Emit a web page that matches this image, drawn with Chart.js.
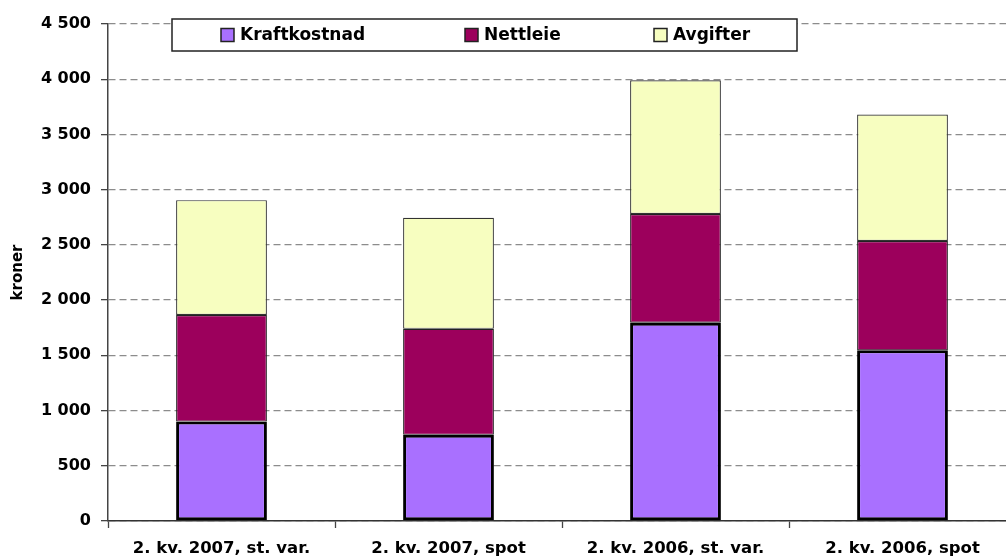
<!DOCTYPE html>
<html>
<head>
<meta charset="utf-8">
<script src="https://cdn.jsdelivr.net/npm/chart.js@4/dist/chart.umd.min.js"></script>
<style>
  html, body { margin: 0; padding: 0; background: #fff; overflow: hidden; }
  #wrap { position: absolute; left: 0; top: 0; width: 1016px; height: 558px; }
</style>
</head>
<body>
<div id="wrap"><canvas id="chart" width="1016" height="558"></canvas></div>
<script>
// Data
const categories = ['2. kv. 2007, st. var.', '2. kv. 2007, spot', '2. kv. 2006, st. var.', '2. kv. 2006, spot'];
const kraftkostnad = [900, 780, 1795, 1545];
const nettleie = [965, 960, 985, 990];
const avgifter = [1040, 1005, 1210, 1145];
const yTicks = [0, 500, 1000, 1500, 2000, 2500, 3000, 3500, 4000, 4500];

const FONT = "'DejaVu Sans', sans-serif";

// thousands with a space: 4500 -> "4 500"
const fmt = v => String(v).replace(/\B(?=(\d{3})+(?!\d))/g, ' ');

// Boxed legend drawn on top of the plot, like the original
const boxLegend = {
  id: 'boxLegend',
  afterDraw(chart) {
    const ctx = chart.ctx;
    const box = { x: 172, y: 19, w: 625, h: 32 };
    const itemX = [221, 465, 654];
    ctx.save();
    ctx.fillStyle = '#fff';
    ctx.fillRect(box.x, box.y, box.w, box.h);
    ctx.lineWidth = 1.5;
    ctx.strokeStyle = '#222';
    ctx.strokeRect(box.x, box.y, box.w, box.h);
    ctx.font = `bold 17px ${FONT}`;
    ctx.textBaseline = 'middle';
    chart.data.datasets.forEach((ds, i) => {
      const x = itemX[i];
      const cy = box.y + box.h / 2;
      ctx.fillStyle = ds.backgroundColor;
      ctx.fillRect(x, cy - 6.5, 13, 13);
      ctx.lineWidth = 1.5;
      ctx.strokeStyle = '#222';
      ctx.strokeRect(x, cy - 6.5, 13, 13);
      ctx.fillStyle = '#000';
      ctx.fillText(ds.label, x + 19, cy + 1);
    });
    ctx.restore();
  }
};

const ctx = document.getElementById('chart').getContext('2d');
new Chart(ctx, {
  type: 'bar',
  data: {
    labels: categories,
    datasets: [
      { label: 'Kraftkostnad', data: kraftkostnad, backgroundColor: '#A970FF', borderColor: '#000', borderWidth: 3, borderSkipped: false },
      { label: 'Nettleie', data: nettleie, backgroundColor: '#9C005C', borderColor: '#222', borderWidth: 1.2, borderSkipped: false },
      { label: 'Avgifter', data: avgifter, backgroundColor: '#F7FEC0', borderColor: '#333', borderWidth: 1.2, borderSkipped: false }
    ]
  },
  options: {
    responsive: false,
    animation: false,
    layout: { padding: { top: 24, left: 0, right: 0, bottom: 0 } },
    datasets: { bar: { barPercentage: 0.4, categoryPercentage: 1 } },
    plugins: { legend: { display: false }, tooltip: { enabled: false } },
    scales: {
      x: {
        stacked: true,
        grid: { display: true, drawOnChartArea: false, offset: true, tickLength: 7, tickColor: '#444', tickWidth: 1.3 },
        border: { color: '#333', width: 1.5 },
        ticks: { font: { family: FONT, size: 16.5, weight: 'bold' }, color: '#000', padding: 11, maxRotation: 0, autoSkip: false },
        afterFit: s => { s.height = 37; }
      },
      y: {
        stacked: true,
        min: 0,
        max: 4500,
        afterBuildTicks: s => { s.ticks = yTicks.map(v => ({ value: v })); },
        ticks: { font: { family: FONT, size: 16, weight: 'bold' }, color: '#000', padding: 10, callback: v => fmt(v) },
        grid: { color: '#8c8c8c', lineWidth: 1.3, borderDash: [7, 4], tickBorderDash: [], tickColor: '#444', tickLength: 7, tickWidth: 1.3 },
        border: { color: '#444', width: 1.5, dash: [7, 4] },
        title: { display: true, text: 'kroner', font: { family: FONT, size: 15, weight: 'bold' }, color: '#000', padding: { top: 9, bottom: 0 } },
        afterFit: s => { s.width = 108; }
      }
    }
  },
  plugins: [boxLegend]
});
</script>
</body>
</html>
